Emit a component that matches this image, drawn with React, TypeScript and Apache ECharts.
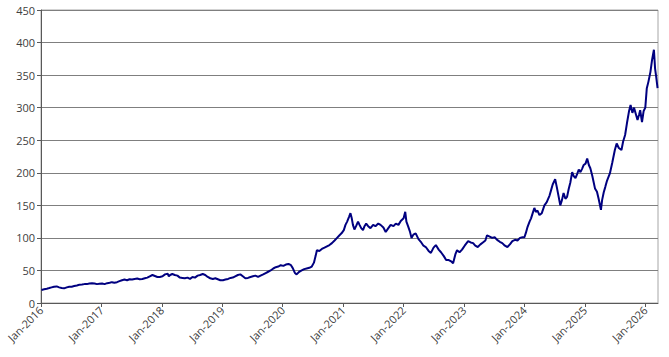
import React, { useEffect, useRef } from "react";
import * as echarts from "echarts";

const yTicks = [0, 50, 100, 150, 200, 250, 300, 350, 400, 450];
const xStartYear = 2016;
const xEndYear = 2026.21;

const dates2016_2019: string[] = [
  "2016-01-04","2016-01-20","2016-02-05","2016-02-20","2016-03-05","2016-03-20","2016-04-05","2016-04-20","2016-05-05","2016-05-20","2016-06-05","2016-06-20","2016-07-05","2016-07-20","2016-08-05","2016-08-20","2016-09-05","2016-09-20","2016-10-05","2016-10-20","2016-11-05","2016-11-20","2016-12-05","2016-12-20",
  "2017-01-05","2017-01-20","2017-02-05","2017-02-20","2017-03-05","2017-03-20","2017-04-05","2017-04-20","2017-05-05","2017-05-20","2017-06-05","2017-06-20","2017-07-05","2017-07-20","2017-08-05","2017-08-20","2017-09-05","2017-09-20","2017-10-05","2017-10-20","2017-11-05","2017-11-20","2017-12-05","2017-12-20",
  "2018-01-05","2018-01-20","2018-02-05","2018-02-12","2018-02-20","2018-03-05","2018-03-20","2018-04-05","2018-04-20","2018-05-05","2018-05-20","2018-06-05","2018-06-20","2018-07-05","2018-07-20","2018-08-05","2018-08-20","2018-09-05","2018-09-20","2018-10-05","2018-10-20","2018-11-05","2018-11-20","2018-12-05","2018-12-20",
  "2019-01-05","2019-01-20","2019-02-05","2019-02-20","2019-03-05","2019-03-20","2019-04-05","2019-04-20","2019-05-05","2019-05-20","2019-06-05","2019-06-20","2019-07-05","2019-07-20","2019-08-05","2019-08-20","2019-09-05","2019-09-20","2019-10-05","2019-10-20","2019-11-05","2019-11-20","2019-12-05","2019-12-20",
];
const values2016_2019: number[] = [
  20,21,22,23,24,25,25.5,24,23,22.5,24,25,25,26,27,28,28.5,29,29,30,30.5,30,29,29.5,
  30,29,30.5,31,32,31,32,33.5,35,36,35,36.5,36,37,37.5,36.5,37,38,39,41,43,41.5,40,40,
  41,44,45,41,43,44.5,43,42,39,38.5,38,39,37,40,39,42,43,44.5,43,40,38,37,38,36.5,35,
  35,36,37,38.5,39,41,43,44,41,38,38.5,40,41,42,40,42,44,46,48,50,53,55,56,58,
];

const dates2020_2022: string[] = [
  "2020-01-05","2020-01-20","2020-02-05","2020-02-20","2020-03-01","2020-03-08","2020-03-15","2020-03-25","2020-04-10","2020-04-25","2020-05-10","2020-05-25","2020-06-10","2020-06-25","2020-07-08","2020-07-18","2020-07-26","2020-08-10","2020-08-25","2020-09-10","2020-09-25","2020-10-10","2020-10-25","2020-11-10","2020-11-25","2020-12-10","2020-12-22",
  "2021-01-05","2021-01-15","2021-01-25","2021-02-05","2021-02-14","2021-02-22","2021-03-01","2021-03-10","2021-03-20","2021-04-01","2021-04-10","2021-04-20","2021-05-01","2021-05-10","2021-05-20","2021-06-01","2021-06-15","2021-07-01","2021-07-15","2021-08-01","2021-08-15","2021-09-01","2021-09-15","2021-10-01","2021-10-15","2021-11-01","2021-11-15","2021-12-01","2021-12-15",
  "2022-01-01","2022-01-11","2022-01-18","2022-01-28","2022-02-08","2022-02-18","2022-03-01","2022-03-15","2022-04-01","2022-04-15","2022-05-01","2022-05-15","2022-06-01","2022-06-15","2022-07-01","2022-07-15","2022-08-01","2022-08-15","2022-09-01","2022-09-15","2022-10-01","2022-10-15","2022-10-27","2022-11-10","2022-11-20","2022-12-05","2022-12-20",
];
const values2020_2022: number[] = [
  57,59,60,58,54,50,46,44,48,50,52,53,54,56,62,72,81,80,83,85,87,89,92,96,100,104,107,
  112,120,125,132,138,130,120,113,118,125,120,115,112,118,122,118,115,120,118,122,120,116,109,115,120,118,122,120,126,
  130,140,125,118,110,100,105,107,98,94,88,86,80,77,85,89,82,78,72,66,66,64,61,75,81,78,82,
];

const dates2023_2026: string[] = [
  "2023-01-05","2023-01-26","2023-02-10","2023-02-25","2023-03-10","2023-03-25","2023-04-10","2023-04-25","2023-05-10","2023-05-20","2023-06-05","2023-06-20","2023-07-05","2023-07-20","2023-08-05","2023-08-20","2023-09-05","2023-09-20","2023-10-05","2023-10-20","2023-11-05","2023-11-20","2023-12-05","2023-12-20",
  "2024-01-01","2024-01-10","2024-01-20","2024-02-01","2024-02-10","2024-02-20","2024-03-01","2024-03-10","2024-03-20","2024-04-01","2024-04-15","2024-05-01","2024-05-15","2024-06-01","2024-06-10","2024-06-20","2024-07-05","2024-07-15","2024-07-25","2024-08-05","2024-08-15","2024-08-25","2024-09-05","2024-09-15","2024-09-25","2024-10-05","2024-10-16","2024-10-25","2024-11-05","2024-11-15","2024-11-25","2024-12-05","2024-12-15","2024-12-25",
  "2025-01-05","2025-01-15","2025-01-25","2025-02-03","2025-02-15","2025-03-03","2025-03-15","2025-03-25","2025-04-08","2025-04-15","2025-04-25","2025-05-04","2025-05-15","2025-06-01","2025-06-15","2025-07-01","2025-07-12","2025-07-25","2025-08-10","2025-08-20","2025-09-01","2025-09-12","2025-09-25","2025-10-04","2025-10-15","2025-10-25","2025-11-05","2025-11-15","2025-11-25","2025-12-01","2025-12-12","2025-12-22",
  "2026-01-01","2026-01-10","2026-01-20","2026-02-01","2026-02-10","2026-02-22","2026-03-01","2026-03-08","2026-03-16",
];
const values2023_2026: number[] = [
  88,95,93,92,88,86,90,93,96,104,102,100,101,97,94,92,88,86,90,95,97,96,100,101,
  101,108,117,125,130,138,146,140,142,135,138,150,155,165,173,182,190,178,165,150,158,169,160,163,175,185,201,195,192,198,205,201,206,212,
  214,222,212,207,195,176,171,160,143,158,170,178,188,199,215,235,245,238,235,248,258,276,295,304,292,300,290,281,290,296,278,295,
  300,330,340,355,372,389,360,347,330,
];

function toYearFraction(d: string): number {
  const [y, m, day] = d.split("-").map(Number);
  const start = Date.UTC(y, 0, 1);
  const end = Date.UTC(y + 1, 0, 1);
  return y + (Date.UTC(y, m - 1, day) - start) / (end - start);
}

export default function App() {
  const ref = useRef<HTMLDivElement>(null);
  useEffect(() => {
    if (!ref.current) return;
    const chart = echarts.init(ref.current, undefined, { renderer: "svg" });
    const dates = [...dates2016_2019, ...dates2020_2022, ...dates2023_2026];
    const values = [...values2016_2019, ...values2020_2022, ...values2023_2026];
    const data = dates.map((d, i) => [toYearFraction(d), values[i]]);
    const font = "'Open Sans', 'DejaVu Sans', sans-serif";
    chart.setOption({
      animation: false,
      backgroundColor: "#ffffff",
      grid: {
        left: 41,
        right: 11,
        top: 10,
        bottom: 54,
        show: true,
        borderColor: "#a6a6a6",
        borderWidth: 1,
        backgroundColor: "transparent",
      },
      xAxis: {
        type: "value",
        min: xStartYear,
        max: xEndYear,
        interval: 1,
        splitLine: { show: false },
        axisLine: { show: true, onZero: false, lineStyle: { color: "#595959", width: 1 } },
        axisTick: { show: true, length: 4, lineStyle: { color: "#595959" } },
        axisLabel: {
          rotate: 45,
          margin: 5,
          color: "#404040",
          fontSize: 11,
          fontFamily: font,
          showMaxLabel: false,
          formatter: (v: number) => (Number.isInteger(v) ? `Jan-${v}` : ""),
        },
      },
      yAxis: {
        type: "value",
        min: 0,
        max: 450,
        interval: 50,
        splitLine: { show: true, lineStyle: { color: "#7f7f7f", width: 1 } },
        axisLine: { show: true, lineStyle: { color: "#595959", width: 1 } },
        axisTick: { show: true, length: 4, lineStyle: { color: "#595959" } },
        axisLabel: {
          color: "#404040",
          fontSize: 11,
          fontFamily: font,
          margin: 6,
          formatter: (v: number) => (yTicks.includes(v) ? String(v) : ""),
        },
      },
      series: [
        {
          type: "line",
          data,
          showSymbol: false,
          symbol: "none",
          lineStyle: { color: "#000080", width: 2 },
          itemStyle: { color: "#000080" },
        },
      ],
    });
    return () => chart.dispose();
  }, []);
  return (
    <div
      ref={ref}
      style={{ position: "fixed", left: 0, top: 0, width: 669, height: 357, background: "#fff" }}
    />
  );
}
